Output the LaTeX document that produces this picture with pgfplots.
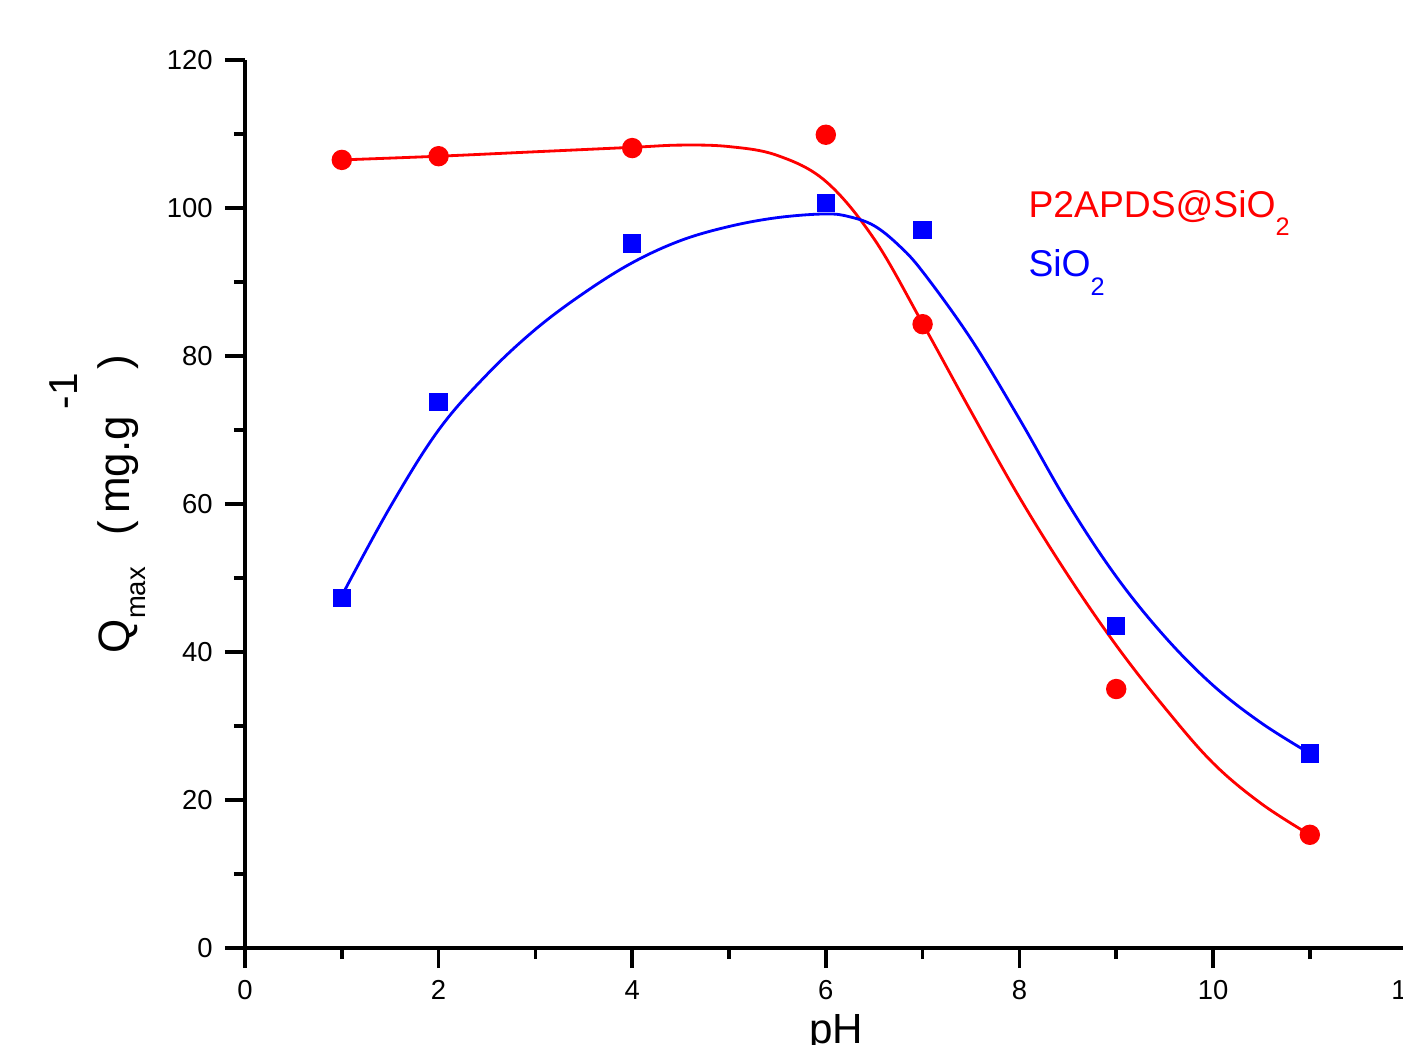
\documentclass[border=0pt]{standalone}
\usepackage{fontspec}
\setmainfont{Liberation Sans}
\usepackage{pgfplots}
\pgfplotsset{compat=1.18}

\begin{document}
\begin{tikzpicture}
\begin{axis}[
    at={(0,0)}, anchor=south west,
    scale only axis,
    width=11.616cm, height=8.88cm,
    xmin=0, xmax=12, ymin=0, ymax=120,
    axis x line*=bottom, axis y line*=left,
    axis line style={line width=1.1pt, -},
    xtick={0,2,...,12}, minor xtick={1,3,...,11},
    ytick={0,20,...,120}, minor ytick={10,30,...,110},
    tick align=outside,
    major tick length=0.2cm, minor tick length=0.11cm,
    every tick/.style={black, line width=1pt},
    tick label style={font=\fontsize{7.8}{9}\selectfont},
    /pgf/number format/assume math mode=true,
    clip=false,
]
% fitted curves
\addplot[red, line width=0.8pt, smooth, tension=0.6] coordinates {
(1,106.5) (2,107.0) (3,107.6) (4,108.2) (4.5,108.5) (5,108.3) (5.5,107.1)
(6,103.6) (6.5,95.8) (7,84.4) (7.5,72.5) (8,60.9) (8.5,50.4) (9,40.9)
(9.5,32.5) (10,25.0) (10.5,19.5) (11,15.3)
};
\addplot[blue, line width=0.8pt, smooth, tension=0.6] coordinates {
(1,47.6) (1.5,59.6) (2,70.0) (2.5,77.5) (3,83.6) (3.5,88.5) (4,92.6) (4.5,95.6)
(5,97.5) (5.5,98.7) (6,99.2) (6.25,98.8) (6.5,97.6) (6.75,95.0) (7,91.4)
(7.5,82.3) (8,71.5) (8.5,60.1) (9,50.2) (9.5,42.1) (10,35.5) (10.5,30.4) (11,26.3)
};
% measured points
\addplot[only marks, mark=*, mark size=2.7pt, mark options={draw=red, fill=red}] coordinates {
(1,106.5) (2,107.0) (4,108.1) (6,109.9) (7,84.3) (9,35.0) (11,15.3)
};
\addplot[only marks, mark=square*, mark size=2.4pt, mark options={draw=blue, fill=blue}] coordinates {
(1,47.3) (2,73.8) (4,95.2) (6,100.7) (7,97.0) (9,43.5) (11,26.3)
};

\node[anchor=base west, inner sep=0, text=red, font=\fontsize{10.6}{12}\selectfont]
  at (axis description cs:0.674,0.823) {P2APDS@SiO\raisebox{-0.5em}{\fontsize{7.2}{8}\selectfont 2}};
\node[anchor=base west, inner sep=0, text=blue, font=\fontsize{10.6}{12}\selectfont]
  at (axis description cs:0.674,0.756) {SiO\raisebox{-0.5em}{\fontsize{7.2}{8}\selectfont 2}};

\node[rotate=90, anchor=base, inner sep=0, font=\fontsize{12.5}{14}\selectfont]
  at (axis description cs:-0.099,0.5)
  {Q\raisebox{-4.5pt}{\fontsize{7.8}{9}\selectfont max}\hspace{9pt}(\hspace{2pt}mg.g\hspace{2pt}\raisebox{15pt}{\fontsize{11.5}{12}\selectfont -1}\hspace{1pt})};
\node[anchor=base, inner sep=0, font=\fontsize{12}{14}\selectfont]
  at (axis description cs:0.509,-0.107) {pH};
\end{axis}
\pgfresetboundingbox
\useasboundingbox (-2.45,-0.96) rectangle (11.58,9.48);
\end{tikzpicture}
\end{document}
